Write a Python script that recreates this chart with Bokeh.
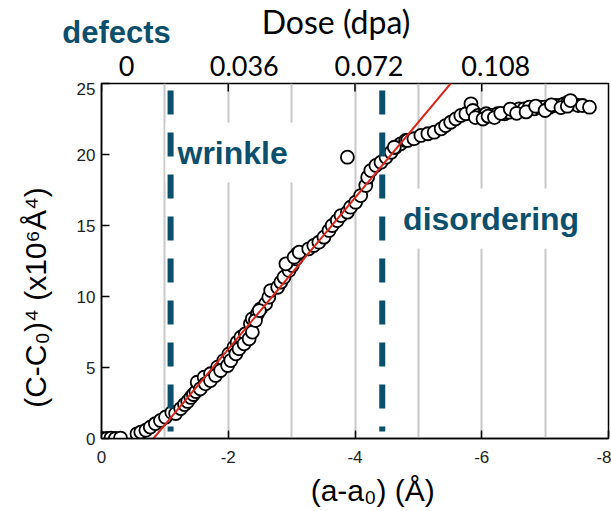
from math import pi
from bokeh.plotting import figure
from bokeh.layouts import column
from bokeh.models import Range1d, FixedTicker, Label
from bokeh.core.properties import value
from bokeh.embed import file_html
from bokeh.resources import INLINE

# ---------------- data ----------------
x_vals = [0.00, -0.08, -0.15, -0.22, -0.30,
          -0.56, -0.62, -0.70, -0.77, -0.85, -0.93, -1.01, -1.11, -1.17, -1.25, -1.31, -1.36, -1.41, -1.45, -1.49,
          -1.51, -1.62, -1.72, -1.83, -1.93, -2.01, -2.09, -2.14, -2.20, -2.27, -2.35, -2.38, -2.46, -2.51, -2.59,
          -2.64, -2.67, -2.78, -2.83, -2.88, -2.96, -3.01, -3.07, -3.09,
          -1.56, -1.64, -1.72, -1.80, -1.88, -1.99, -2.04, -2.12, -2.17, -2.25, -2.33, -2.38, -2.43, -2.49,
          -2.91, -3.04, -3.12, -3.27, -3.35, -3.43, -3.51, -3.59, -3.64, -3.72, -3.78, -3.88, -3.93, -4.01,
          -4.09, -4.17, -4.20, -4.25, -4.33, -4.41, -4.49, -4.57, -4.64, -4.72, -4.80, -3.88,
          -4.62, -4.83, -4.93, -5.04, -5.15, -5.25, -5.36, -5.43, -5.51, -5.59, -5.67, -5.75, -5.83, -5.86,
          -5.94, -5.99, -6.07, -6.15, -6.25, -6.36, -6.43, -6.51, -6.59, -6.67, -6.75, -6.83, -6.91, -6.99,
          -7.07, -7.15, -7.22, -7.30, -7.36, -7.44, -7.52, -7.59, -7.70,
          -5.90, -6.02, -6.10, -6.20, -6.30, -6.45, -6.55, -6.70, -6.85, -7.00, -7.10, -7.25, -7.35, -7.40]
y_vals = [0.00, 0.00, 0.03, 0.00, 0.03,
          0.33, 0.45, 0.58, 0.80, 1.05, 1.27, 1.50, 1.83, 1.76, 2.11, 2.39, 2.61, 2.89, 3.10, 3.30,
          3.96, 4.32, 4.56, 5.02, 5.49, 5.96, 6.43, 6.78, 7.13, 7.37, 8.08, 8.43, 8.78, 9.13, 9.49,
          9.95, 10.42, 10.65, 11.01, 11.36, 11.83, 12.18, 12.65, 13.01,
          3.50, 3.85, 4.08, 4.44, 4.79, 5.14, 5.49, 5.96, 6.32, 6.67, 7.02, 7.49, 8.31, 9.01,
          12.30, 12.77, 13.12, 13.36, 13.59, 13.82, 14.18, 14.65, 15.00, 15.35, 15.70, 15.94, 16.29, 16.64,
          17.11, 17.82, 18.40, 18.87, 19.23, 19.46, 19.81, 20.16, 20.51, 20.75, 20.99, 19.81,
          20.51, 20.99, 21.11, 21.34, 21.46, 21.57, 21.81, 22.04, 22.27, 22.51, 22.75, 22.87, 23.57, 23.10,
          22.75, 22.63, 22.87, 22.75, 22.87, 22.87, 22.98, 23.10, 23.22, 23.22, 23.33, 23.22, 23.33, 23.33,
          23.33, 23.45, 23.45, 23.57, 23.68, 23.57, 23.45, 23.45, 23.33,
          22.60, 22.50, 22.70, 22.60, 22.90, 23.20, 22.90, 23.00, 23.40, 23.10, 23.50, 23.30, 23.40, 23.80]

fit_x = [-0.82, -5.51]
fit_y = [0.0, 25.0]
boundary_x = [-1.09, -4.43]

x_ticks = [0, -2, -4, -6, -8]
x_tick_labels = ["0", "-2", "-4", "-6", "-8"]
y_ticks = [0, 5, 10, 15, 20, 25]
grid_x = [-1, -2, -3, -4, -5, -6, -7]
dose_ticks = [0, 0.036, 0.072, 0.108]
dose_labels = ["0", "0.036", "0.072", "0.108"]
dose_per_unit = 0.018   # dpa per Å of (a-a0)

# ---------------- style / layout ----------------
TEAL = "#0b4f6c"
RED = "#d9261c"
GRID = "#c8c8c8"
SANS = "Liberation Sans"
W, H = 611, 511
LEFT, RIGHT, TOP, BOTTOM = 101, 3, 83, 73
TOP_STRIP = 82                      # strip above the plot holding the upper texts
X0, X1, Y0, Y1 = 0, -8, 0, 25
PX_X = (W - LEFT - RIGHT) / (X0 - X1)
PX_Y = (H - TOP - BOTTOM) / (Y1 - Y0)
TICK_LEN = 8
dose_label_shift_px = [25, 16, 14, 14]   # labels sit a little right of their ticks

# ---------------- main plot ----------------
p = figure(width=W, height=H - TOP_STRIP, x_range=Range1d(X0, X1), y_range=Range1d(Y0, Y1),
           output_backend="svg", toolbar_location=None,
           min_border_left=LEFT, min_border_right=RIGHT, min_border_top=TOP - TOP_STRIP,
           min_border_bottom=BOTTOM)

p.outline_line_color = "black"
p.outline_line_width = 1.5
p.outline_line_alpha = 1.0

p.xaxis.ticker = FixedTicker(ticks=x_ticks)
p.xaxis.major_label_overrides = {t: s for t, s in zip(x_ticks, x_tick_labels)}
p.yaxis.ticker = FixedTicker(ticks=y_ticks)
for ax in (p.xaxis[0], p.yaxis[0]):
    ax.major_tick_in = TICK_LEN
    ax.major_tick_out = 0
    ax.minor_tick_line_color = None
    ax.axis_line_width = 1.5
    ax.axis_line_color = "black"
    ax.major_tick_line_width = 1.5
    ax.major_label_text_font = SANS
    ax.major_label_text_font_size = "17px"
    ax.major_label_text_color = "#222222"
p.xaxis.major_label_standoff = 12
p.yaxis.major_label_standoff = 6

p.xgrid.ticker = FixedTicker(ticks=grid_x)
p.xgrid.grid_line_color = GRID
p.xgrid.grid_line_width = 2
p.ygrid.visible = False

# inward tick marks of the upper (dose) scale
dose_tick_x = [-d / dose_per_unit for d in dose_ticks]
p.segment(x0=dose_tick_x, y0=[Y1] * len(dose_tick_x), x1=dose_tick_x,
          y1=[Y1 - TICK_LEN / PX_Y] * len(dose_tick_x), line_color="black", line_width=1.5)

p.scatter(x_vals, y_vals, size=13, fill_color="white", line_color="black", line_width=1.8)
p.line(fit_x, fit_y, line_color=RED, line_width=2)

for bx in boundary_x:
    p.line([bx, bx], [24.5, 0.5], line_color=TEAL, line_width=6, line_dash="24 18", level="overlay")

p.add_layout(Label(x=-1.01, y=20.14, text="wrinkle", text_font=SANS, text_font_style="bold",
                   text_font_size="32px", text_color=TEAL, text_align="left", text_baseline="middle",
                   background_fill_color="white", padding=12))
p.add_layout(Label(x=-4.57, y=15.49, text="disordering", text_font=SANS, text_font_style="bold",
                   text_font_size="32px", text_color=TEAL, text_align="left", text_baseline="middle",
                   background_fill_color="white", padding=12))

p.add_layout(Label(x=1.04, y=9.93, angle=pi / 2, text="(C-C\u2080)\u2074 (x10\u2076\u00c5\u2074)",
                   text_font=SANS, text_font_size="30px", text_align="center", text_baseline="middle",
                   text_color="black"), "left")
p.add_layout(Label(x=-4.28, y=-3.66, text="(a-a\u2080) (\u00c5)", text_font=SANS, text_font_size="30px",
                   text_align="center", text_baseline="middle", text_color="black"), "below")

# ---------------- upper strip: same x mapping, y continues the plot's scale ----------------
q = figure(width=W, height=TOP_STRIP,
           x_range=Range1d(X0 + LEFT / PX_X, X1 - RIGHT / PX_X),
           y_range=Range1d(Y1 + (TOP - TOP_STRIP) / PX_Y, Y1 + TOP / PX_Y),
           output_backend="svg", toolbar_location=None, x_axis_location=None, y_axis_location=None,
           min_border=0, min_border_left=0, min_border_right=0, min_border_top=0, min_border_bottom=0)
q.outline_line_color = None
q.grid.visible = False

for fig in (p, q):
    try:
        fig.frame_align = False
    except Exception:
        pass

dose_x = [x - s / PX_X for x, s in zip(dose_tick_x, dose_label_shift_px)]
q.text(x=dose_x, y=[Y1 + 17.5 / PX_Y] * len(dose_x), text=dose_labels,
       text_font=value("Lato"), text_font_size=value("27px"), text_color="black",
       text_align="center", text_baseline="middle")
q.text(x=[-3.70], y=[29.4], text=["Dose (dpa)"], text_font=value("Lato"), text_font_size=value("32px"),
       text_color="black", text_align="center", text_baseline="middle")
q.text(x=[0.62], y=[28.6], text=["defects"], text_font=value(SANS), text_font_style="bold",
       text_font_size=value("31px"), text_color=TEAL, text_align="left", text_baseline="middle")

layout = column(q, p, spacing=0)
open("out.html", "w").write(file_html(layout, INLINE))
